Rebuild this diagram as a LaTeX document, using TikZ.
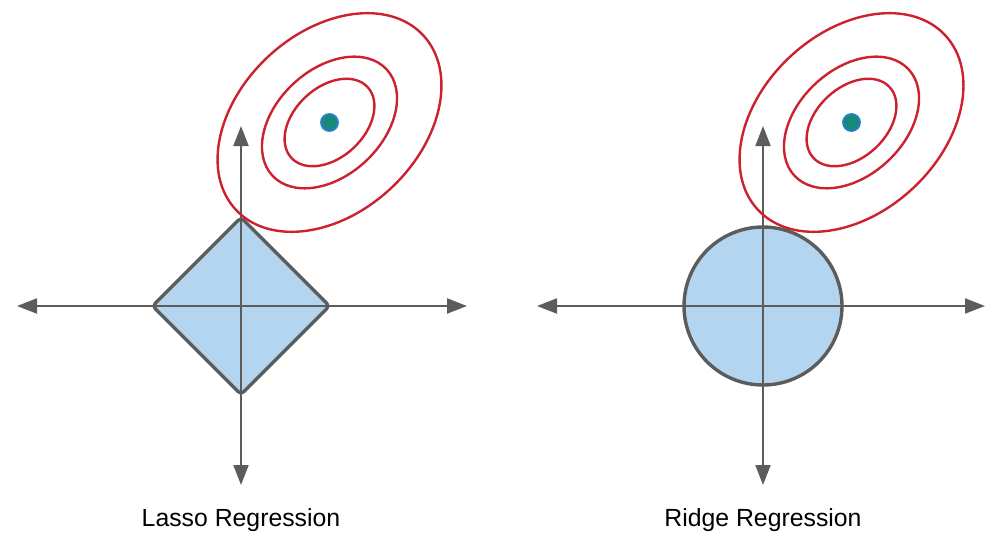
\documentclass[tikz,border=0pt]{standalone}
\usepackage{fontspec}
\setmainfont{Liberation Sans}
\usetikzlibrary{arrows.meta}
\definecolor{axisgray}{HTML}{5C5C5C}
\definecolor{regfill}{HTML}{B3D5F0}
\definecolor{contred}{HTML}{CC2230}
\definecolor{dotteal}{HTML}{158A78}
\definecolor{dotblue}{HTML}{2A80C8}
\tikzset{
  axisline/.style={draw=axisgray, line width=1pt, -{Triangle[length=10pt,width=7.5pt]}},
  regshape/.style={draw=axisgray, fill=regfill, line width=1.7pt, rounded corners=2pt},
  contour/.style={draw=contred, line width=1.2pt},
  optdot/.style={draw=dotblue, fill=dotteal, line width=0.9pt},
  caption/.style={font=\fontsize{12.4}{14}\selectfont, anchor=base, inner sep=0pt}
}
\begin{document}
\begin{tikzpicture}[x=0.5pt, y=0.5pt]
\useasboundingbox (0,0) rectangle (990,532);
% ---------- Lasso panel ----------
\coordinate (lc) at (241,226);
\coordinate (lw) at (17,226);
\coordinate (le) at (467,226);
\coordinate (ls) at (241,47);
\coordinate (ln) at (241,406);
\coordinate (lopt) at (329.5,409.5);
\draw[regshape] (241,314.5) -- (329.5,226) -- (241,137.5) -- (152.5,226) -- cycle;
\draw[axisline] (lc) -- (lw);
\draw[axisline] (lc) -- (le);
\draw[axisline] (lc) -- (ls);
\draw[axisline] (lc) -- (ln);
\draw[contour, rotate around={43:(lopt)}] (lopt) ellipse [x radius=128, y radius=90];
\draw[contour, rotate around={43:(lopt)}] (lopt) ellipse [x radius=78, y radius=53];
\draw[contour, rotate around={43:(lopt)}] (lopt) ellipse [x radius=52, y radius=35];
\fill[optdot] (lopt) circle [radius=8.5];
\node[caption] (lasso) at (241,6) {Lasso Regression};
% ---------- Ridge panel ----------
\coordinate (rc) at (763,226);
\coordinate (rw) at (537,226);
\coordinate (re) at (985,226);
\coordinate (rs) at (763,47);
\coordinate (rn) at (763,406);
\coordinate (ropt) at (851.5,409.5);
\draw[regshape] (rc) circle [radius=79];
\draw[axisline] (rc) -- (rw);
\draw[axisline] (rc) -- (re);
\draw[axisline] (rc) -- (rs);
\draw[axisline] (rc) -- (rn);
\draw[contour, rotate around={43:(ropt)}] (ropt) ellipse [x radius=128, y radius=90];
\draw[contour, rotate around={43:(ropt)}] (ropt) ellipse [x radius=78, y radius=53];
\draw[contour, rotate around={43:(ropt)}] (ropt) ellipse [x radius=52, y radius=35];
\fill[optdot] (ropt) circle [radius=8.5];
\node[caption] (ridge) at (763,6) {Ridge Regression};
\end{tikzpicture}
\end{document}
